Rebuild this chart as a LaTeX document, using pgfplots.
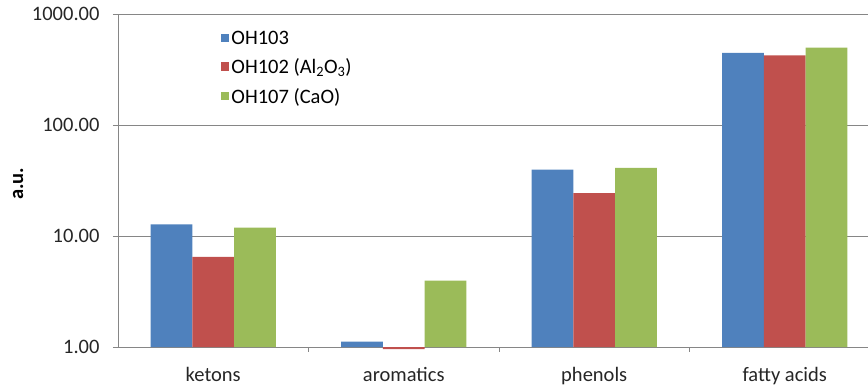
\documentclass[border=0pt]{standalone}
\usepackage{fontspec}
\setmainfont{Carlito}
\usepackage{pgfplots}
\pgfplotsset{compat=1.18}
\definecolor{cblue}{HTML}{4F81BD}
\definecolor{cred}{HTML}{C0504D}
\definecolor{cgreen}{HTML}{9BBB59}
\definecolor{cgrid}{HTML}{868686}
\begin{document}
\begin{tikzpicture}
\begin{axis}[
  scale only axis,
  width=750pt, height=333pt,
  ymode=log,
  ymin=1, ymax=1000,
  xmin=-0.5, xmax=3.437,
  clip=false,
  ybar=0pt,
  bar width=0.219,
  axis x line*=bottom,
  axis y line*=left,
  axis line style={cgrid, line width=0.8pt},
  ytick={1,10,100,1000},
  yticklabels={1.00,10.00,100.00,1000.00},
  yminorticks=false,
  ymajorgrids,
  major grid style={cgrid, line width=0.8pt},
  y tick style={cgrid, line width=0.8pt},
  major tick length=5pt,
  tick align=outside,
  xtick={0,1,2,3},
  xticklabels={ketons,aromatics,phenols,fatty acids},
  x tick style={draw=none},
  extra x ticks={0.5,1.5,2.5},
  extra x tick labels={},
  extra x tick style={grid=none, x tick style={draw=cgrid, line width=0.8pt}},
  ticklabel style={font=\fontsize{20.5}{24}\selectfont, text=black!85},
  xticklabel style={yshift=-12pt},
  yticklabel style={xshift=-10pt},
  ylabel={\textbf{a.u.}},
  ylabel style={font=\fontsize{20.5}{24}\selectfont, at={(axis description cs:-0.133,0.49)}, anchor=center},
  legend style={at={(0.133,0.962)}, anchor=north west, draw=none, fill=none,
    font=\fontsize{20.5}{24}\selectfont, row sep=9pt, cells={anchor=west}},
  legend image code/.code={\fill[#1] (0pt,-4pt) rectangle (8.5pt,4.5pt);},
]
\addplot[fill=cblue, draw=none] coordinates {(0,12.7) (1,1.12) (2,39.6) (3,446)};
\addplot[fill=cred, draw=none] coordinates {(0,6.47) (1,0.955) (2,24.4) (3,425)};
\addplot[fill=cgreen, draw=none] coordinates {(0,11.9) (1,3.97) (2,41.0) (3,498)};
\legend{OH103, OH102 (Al\textsubscript{2}O\textsubscript{3}), OH107 (CaO)}
\end{axis}
\pgfresetboundingbox
\path ([xshift=-118pt,yshift=-40pt]current axis.south west) rectangle ([yshift=14pt]current axis.north east);
\end{tikzpicture}
\end{document}
